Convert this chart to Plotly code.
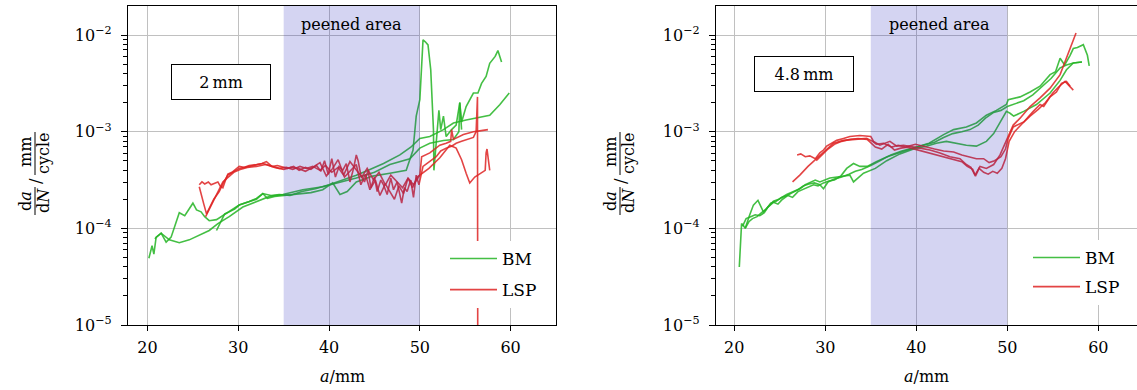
import plotly.graph_objects as go

W, H = 1137, 390
FONT = "DejaVu Serif"
GREEN = "rgba(35,180,35,0.85)"
RED = "rgba(222,35,35,0.85)"

# ---------------- data: left panel (2 mm) ----------------
bm2_a_x = [20.15, 20.5, 20.7, 20.95, 21.5, 22.05, 22.6, 23.2, 23.5, 24.1, 25.0, 25.4, 25.9, 26.3, 26.8, 27.6, 28.3, 29.0, 30.1, 31.2,
           32.0, 32.7, 33.6, 34.5, 35.7, 37.0, 38.5, 40.0, 41.5, 43.0, 44.5, 46.0, 47.8, 49.0, 50.0, 51.1, 52.6, 53.7, 55.1, 56.6,
           57.7, 58.8, 59.85]
bm2_a_y = [4.9e-5, 6.6e-5, 5.4e-5, 8.1e-5, 8.9e-5, 7.2e-5, 8.1e-5, 1.23e-4, 1.45e-4, 1.35e-4, 1.82e-4, 1.55e-4, 1.48e-4, 1.32e-4, 1.2e-4, 1.23e-4, 1.35e-4, 1.48e-4, 1.74e-4, 1.9e-4,
           2.04e-4, 2.29e-4, 2.19e-4, 2.24e-4, 2.19e-4, 2.4e-4, 2.57e-4, 2.82e-4, 3.16e-4, 3.55e-4, 4.07e-4, 4.68e-4, 5.75e-4, 6.9e-4, 8.5e-4, 8.9e-4, 1.05e-3, 1.23e-3, 1.32e-3, 1.41e-3,
           1.48e-3, 1.9e-3, 2.51e-3]

bm2_b_x = [20.8, 21.5, 22.4, 23.5, 24.6, 25.7, 26.8, 27.75, 29.0, 30.5, 32.0, 33.45, 34.9, 37.1, 39.3, 41.0, 43.0, 45.0, 46.7, 48.9,
           50.0, 51.1, 52.6, 53.7, 54.3, 54.4, 54.6]
bm2_b_y = [7.8e-5, 8.9e-5, 7.6e-5, 7.1e-5, 7.6e-5, 8.5e-5, 9.5e-5, 1.12e-4, 1.32e-4, 1.66e-4, 1.9e-4, 2.14e-4, 2.24e-4, 2.51e-4, 2.69e-4, 2.95e-4, 3.31e-4, 3.8e-4, 4.57e-4, 5.25e-4,
           6.76e-4, 7.6e-4, 8.1e-4, 8.3e-4, 1.0e-3, 2.0e-3, 1.05e-3]

bm2_c_x = [27.6, 28.0, 28.5, 29.0, 29.6, 30.1, 30.8, 31.2, 32.0, 32.7, 33.2, 34.0, 35.0, 36.5, 38.0, 39.3, 40.4, 41.2, 42.0, 43.0,
           44.8, 46.7, 48.5, 49.25, 49.6, 50.0, 50.35, 50.6, 50.9, 51.2, 51.5, 51.55, 51.8, 52.1, 52.3, 52.6, 52.9, 53.5, 54.0, 54.4,
           54.6, 55.1, 55.9, 56.4, 56.8, 57.3, 57.7, 58.3, 58.6, 59.0]
bm2_c_y = [9.5e-5, 1.12e-4, 1.41e-4, 1.48e-4, 1.58e-4, 1.74e-4, 1.82e-4, 1.9e-4, 2.0e-4, 2.29e-4, 2.04e-4, 2.14e-4, 2.19e-4, 2.24e-4, 2.34e-4, 2.51e-4, 2.95e-4, 2.24e-4, 2.4e-4, 3.02e-4,
           3.47e-4, 3.72e-4, 3.98e-4, 6.46e-4, 1.45e-3, 2.14e-3, 8.9e-3, 8.5e-3, 7.9e-3, 4.37e-3, 1.05e-3, 3.98e-4, 7.1e-4, 1.66e-3, 1.05e-3, 1.45e-3, 8.9e-4, 1.05e-3, 1.17e-3, 2.0e-3,
           1.26e-3, 1.82e-3, 2.51e-3, 2.51e-3, 3.16e-3, 3.72e-3, 5.1e-3, 6.0e-3, 6.9e-3, 5.25e-3]

lsp2_a_x = [25.7, 25.9, 26.2, 26.5, 26.9, 27.3, 27.9, 28.4, 28.85, 29.4, 30.1, 30.7, 31.2, 32.0, 32.7, 33.1, 33.8, 34.5, 35.3, 36.0,
            36.8, 37.5, 38.2, 39.0, 39.6, 40.3, 41.0, 41.6, 42.3, 43.0, 43.6, 44.2, 44.9, 45.5, 46.2, 46.8, 47.5, 48.1, 48.7, 49.3,
            50.0, 50.2, 51.1, 52.2, 52.9, 53.4, 53.5, 53.7, 54.8, 55.9, 56.6, 57.5]
lsp2_a_y = [2.69e-4, 2.24e-4, 1.78e-4, 1.41e-4, 1.66e-4, 2.0e-4, 2.4e-4, 3.02e-4, 3.55e-4, 3.8e-4, 4.17e-4, 4.27e-4, 4.37e-4, 4.47e-4, 4.68e-4, 4.57e-4, 4.37e-4, 4.17e-4, 4.27e-4, 4.07e-4,
            4.37e-4, 4.17e-4, 4.37e-4, 3.98e-4, 4.47e-4, 3.8e-4, 4.27e-4, 3.55e-4, 4.9e-4, 3.98e-4, 3.39e-4, 4.17e-4, 3.16e-4, 3.8e-4, 2.82e-4, 3.55e-4, 3.02e-4, 2.63e-4, 3.31e-4, 2.82e-4,
            3.55e-4, 5.5e-4, 6.03e-4, 7.24e-4, 7.59e-4, 7.94e-4, 1.05e-3, 8.32e-4, 9.33e-4, 1.0e-3, 1.02e-3, 1.05e-3]

lsp2_b_x = [25.7, 26.0, 26.3, 26.7, 27.0, 27.4, 27.75, 28.0, 28.3, 28.6, 28.85, 29.3, 29.7, 30.1, 30.6, 31.2, 32.0, 32.6, 33.1, 33.7,
            34.3, 34.9, 35.4, 36.1, 36.7, 37.4, 38.0, 38.6, 39.1, 39.5, 39.9, 40.3, 40.7, 41.1, 41.5, 41.9, 42.3, 42.7, 43.0, 43.2,
            43.5, 43.9, 44.3, 44.6, 45.0, 45.3, 45.7, 46.0, 46.4, 46.8, 47.1, 47.5, 47.8, 48.0, 48.3, 48.6, 49.0, 49.3, 49.6, 49.9,
            50.35, 50.8, 51.3, 51.8, 52.3, 52.9, 53.5, 54.0, 54.6, 55.2, 55.9, 56.2, 56.35, 56.4]
lsp2_b_y = [2.82e-4, 3.02e-4, 2.88e-4, 3.02e-4, 2.82e-4, 2.95e-4, 3.02e-4, 2.75e-4, 2.63e-4, 3.16e-4, 3.63e-4, 3.8e-4, 4.07e-4, 4.37e-4, 4.27e-4, 4.47e-4, 4.57e-4, 4.68e-4, 4.9e-4, 4.37e-4,
            4.47e-4, 4.27e-4, 4.17e-4, 4.37e-4, 3.98e-4, 4.27e-4, 4.07e-4, 4.47e-4, 3.89e-4, 5.01e-4, 3.63e-4, 5.25e-4, 3.39e-4, 4.37e-4, 3.98e-4, 4.68e-4, 3.02e-4, 4.17e-4, 5.75e-4, 5.01e-4,
            3.55e-4, 3.02e-4, 3.98e-4, 2.63e-4, 3.39e-4, 2.4e-4, 3.16e-4, 2.82e-4, 2.24e-4, 3.31e-4, 2.51e-4, 3.02e-4, 2.19e-4, 1.82e-4, 2.63e-4, 2.4e-4, 3.16e-4, 2.09e-4, 3.55e-4, 2.82e-4,
            4.37e-4, 4.68e-4, 5.01e-4, 5.5e-4, 6.31e-4, 6.76e-4, 7.08e-4, 7.59e-4, 7.94e-4, 8.32e-4, 8.71e-4, 1.0e-3, 2.29e-3, 1e-7]

lsp2_c_x = [26.4, 26.8, 27.3, 27.8, 28.3, 28.9, 29.5, 30.2, 31.0, 32.0, 33.0, 34.0, 35.0, 35.8, 36.6, 37.4, 38.2, 39.0, 39.7, 40.4,
            41.0, 41.7, 42.4, 43.0, 43.5, 44.0, 44.5, 45.1, 45.6, 46.2, 46.7, 47.2, 47.7, 48.2, 48.7, 49.2, 49.7, 50.35, 51.0, 52.2,
            53.3, 54.0, 54.6, 55.1, 55.5, 56.05, 56.6, 57.2, 57.3, 57.4, 57.7]
lsp2_c_y = [1.32e-4, 1.58e-4, 2.0e-4, 2.51e-4, 3.02e-4, 3.39e-4, 3.8e-4, 4.07e-4, 4.27e-4, 4.37e-4, 4.57e-4, 4.27e-4, 4.07e-4, 4.27e-4, 4.17e-4, 3.89e-4, 4.27e-4, 4.79e-4, 3.47e-4, 4.17e-4,
            5.13e-4, 3.39e-4, 3.98e-4, 4.57e-4, 2.82e-4, 3.63e-4, 2.51e-4, 3.16e-4, 2.19e-4, 2.88e-4, 2.4e-4, 2.0e-4, 2.75e-4, 2.29e-4, 3.31e-4, 2.63e-4, 3.39e-4, 3.72e-4, 4.17e-4, 5.37e-4,
            7.24e-4, 6.76e-4, 5.13e-4, 3.72e-4, 2.95e-4, 3.39e-4, 3.63e-4, 3.98e-4, 6.03e-4, 6.61e-4, 3.98e-4]

# ---------------- data: right panel (4.8 mm) ----------------
bm48_a_x = [20.55, 20.7, 20.8, 21.0, 21.2, 21.7, 22.1, 22.6, 23.2, 23.7, 24.3, 24.9, 25.75, 26.5, 27.2, 27.8, 28.3, 28.9, 29.4, 30.0,
            30.5, 31.3, 32.0, 32.7, 33.1, 34.2, 35.5, 36.75, 38.2, 39.7, 41.1, 42.2, 43.3, 44.4, 45.5, 46.6, 47.7, 48.5, 49.2, 49.9,
            50.3, 50.7, 51.8, 53.2, 54.7, 55.8, 56.5, 57.25, 58.2]
bm48_a_y = [3.98e-5, 7.08e-5, 1.12e-4, 1.07e-4, 1.0e-4, 1.38e-4, 1.74e-4, 1.95e-4, 1.48e-4, 1.66e-4, 1.91e-4, 2.0e-4, 2.24e-4, 2.4e-4, 2.57e-4, 2.82e-4, 2.95e-4, 3.16e-4, 3.02e-4, 3.16e-4,
            3.31e-4, 3.39e-4, 3.47e-4, 3.55e-4, 3.02e-4, 3.72e-4, 4.17e-4, 5.01e-4, 5.89e-4, 6.61e-4, 7.08e-4, 7.59e-4, 7.94e-4, 7.59e-4, 7.24e-4, 7.08e-4, 7.94e-4, 9.55e-4, 1.23e-3, 1.62e-3,
            1.55e-3, 1.45e-3, 1.62e-3, 1.91e-3, 2.51e-3, 3.39e-3, 4.37e-3, 5.13e-3, 5.25e-3]

bm48_b_x = [20.9, 21.3, 21.8, 22.3, 22.8, 23.3, 23.7, 24.3, 24.8, 25.3, 25.9, 26.4, 27.0, 27.5, 28.1, 28.7, 29.2, 29.8, 30.4, 31.0,
            31.7, 32.35, 33.1, 33.8, 34.6, 35.6, 36.8, 38.0, 39.2, 40.3, 41.4, 42.3, 43.0, 44.1, 45.5, 46.6, 47.7, 48.8, 49.9, 50.1,
            51.4, 52.5, 53.6, 54.7, 55.3, 55.8, 56.3, 56.9, 57.25, 57.7, 58.35, 58.8, 59.0]
bm48_b_y = [1.05e-4, 1.26e-4, 1.32e-4, 1.38e-4, 1.35e-4, 1.45e-4, 1.66e-4, 1.86e-4, 1.78e-4, 2.0e-4, 2.19e-4, 2.09e-4, 2.4e-4, 2.51e-4, 2.69e-4, 2.82e-4, 2.75e-4, 2.95e-4, 3.09e-4, 3.16e-4,
            3.47e-4, 4.17e-4, 4.68e-4, 4.37e-4, 4.37e-4, 4.9e-4, 5.5e-4, 6.03e-4, 6.61e-4, 7.08e-4, 7.59e-4, 8.51e-4, 9.33e-4, 1.05e-3, 1.12e-3, 1.23e-3, 1.48e-3, 1.66e-3, 1.91e-3, 2.14e-3,
            2.29e-3, 2.57e-3, 2.95e-3, 3.89e-3, 4.17e-3, 5.75e-3, 4.9e-3, 6.17e-3, 7.24e-3, 7.41e-3, 7.94e-3, 6.17e-3, 4.79e-3]

bm48_c_x = [21.2, 21.6, 22.0, 22.5, 23.0, 23.5, 24.0, 24.6, 25.2, 25.8, 26.4, 27.0, 27.6, 28.2, 28.8, 29.4, 29.8, 30.3, 31.0, 31.8,
            32.6, 33.3, 34.0, 35.0, 36.0, 37.2, 38.4, 39.6, 40.8, 42.0, 43.0, 44.0, 45.0, 45.9, 46.8, 47.6, 48.5, 49.3, 50.0, 50.8,
            51.8, 52.8, 53.95, 54.8, 55.8, 56.5, 57.25, 58.2]
bm48_c_y = [1.0e-4, 1.17e-4, 1.26e-4, 1.32e-4, 1.45e-4, 1.58e-4, 1.82e-4, 1.91e-4, 2.09e-4, 2.19e-4, 2.34e-4, 2.51e-4, 2.75e-4, 2.88e-4, 2.95e-4, 2.82e-4, 2.57e-4, 3.02e-4, 3.24e-4, 3.39e-4,
            3.63e-4, 3.89e-4, 4.07e-4, 4.47e-4, 5.01e-4, 5.75e-4, 6.31e-4, 6.76e-4, 7.24e-4, 7.76e-4, 8.71e-4, 9.55e-4, 1.0e-3, 1.05e-3, 1.17e-3, 1.38e-3, 1.58e-3, 1.66e-3, 1.82e-3, 1.95e-3,
            2.09e-3, 2.4e-3, 3.02e-3, 3.55e-3, 4.57e-3, 4.9e-3, 5.13e-3, 5.25e-3]

lsp48_a_x = [26.9, 27.3, 27.8, 28.3, 28.9, 29.4, 29.8, 30.15, 30.7, 31.25, 32.0, 32.7, 33.8, 35.0, 35.3, 36.0, 37.1, 37.85, 38.6, 39.3,
             40.4, 41.5, 42.6, 43.7, 44.8, 45.5, 46.0, 46.45, 47.0, 47.7, 48.5, 49.2, 49.75, 50.1, 50.65, 51.4, 52.5, 53.6, 54.7, 55.8,
             56.35, 56.9, 57.55]
lsp48_a_y = [5.75e-4, 5.89e-4, 5.5e-4, 5.62e-4, 5.25e-4, 6.03e-4, 6.46e-4, 7.08e-4, 7.59e-4, 8.13e-4, 8.51e-4, 8.91e-4, 9.12e-4, 8.91e-4, 7.94e-4, 7.24e-4, 7.94e-4, 7.08e-4, 7.24e-4, 7.08e-4,
             6.76e-4, 6.46e-4, 6.03e-4, 5.5e-4, 5.25e-4, 4.57e-4, 4.27e-4, 3.55e-4, 4.37e-4, 4.17e-4, 4.57e-4, 5.75e-4, 7.59e-4, 8.91e-4, 1.17e-3, 1.38e-3, 1.82e-3, 2.24e-3, 2.82e-3, 3.89e-3,
             5.25e-3, 7.24e-3, 1.05e-2]

lsp48_b_x = [26.4, 27.2, 28.1, 29.0, 29.8, 30.9, 32.0, 33.2, 34.55, 35.2, 35.6, 36.4, 37.3, 38.0, 38.8, 39.9, 41.0, 42.0, 43.0, 44.1,
             45.0, 45.8, 46.6, 47.4, 48.0, 48.6, 49.3, 49.8, 50.1, 50.65, 51.8, 52.85, 53.6, 54.0, 54.7, 55.4, 55.95, 56.5, 56.9]
lsp48_b_y = [3.02e-4, 3.55e-4, 4.37e-4, 5.25e-4, 6.17e-4, 7.59e-4, 8.13e-4, 8.32e-4, 8.51e-4, 7.94e-4, 7.41e-4, 7.59e-4, 6.92e-4, 7.24e-4, 6.92e-4, 7.41e-4, 6.92e-4, 6.61e-4, 6.31e-4, 6.17e-4,
             5.75e-4, 5.5e-4, 5.25e-4, 5.25e-4, 4.79e-4, 5.01e-4, 5.5e-4, 6.61e-4, 8.51e-4, 1.12e-3, 1.26e-3, 1.62e-3, 1.91e-3, 1.82e-3, 2.29e-3, 2.57e-3, 3.16e-3, 3.31e-3, 2.95e-3]

lsp48_c_x = [29.0, 29.6, 30.3, 31.0, 31.8, 32.7, 33.6, 34.6, 35.1, 35.5, 36.2, 36.9, 37.6, 38.3, 39.0, 39.8, 40.7, 41.6, 42.5, 43.4,
             44.2, 45.0, 45.6, 46.2, 46.5, 46.9, 47.4, 47.9, 48.4, 48.9, 49.4, 49.8, 50.2, 50.8, 51.6, 52.5, 53.4, 54.2, 55.0, 55.6,
             56.35, 56.9, 57.25]
lsp48_c_y = [5.01e-4, 5.75e-4, 6.61e-4, 7.41e-4, 7.94e-4, 8.32e-4, 8.51e-4, 8.32e-4, 7.59e-4, 6.92e-4, 6.61e-4, 7.41e-4, 6.46e-4, 6.76e-4, 6.92e-4, 6.61e-4, 6.31e-4, 5.89e-4, 5.62e-4, 5.37e-4,
             5.13e-4, 4.9e-4, 4.37e-4, 4.07e-4, 3.47e-4, 4.17e-4, 3.8e-4, 3.63e-4, 3.89e-4, 3.72e-4, 4.17e-4, 5.25e-4, 7.94e-4, 1.0e-3, 1.2e-3, 1.45e-3, 1.7e-3, 2.0e-3, 2.51e-3, 2.88e-3,
             3.31e-3, 2.95e-3, 2.69e-3]

ytick_vals = [1e-5, 1e-4, 1e-3, 1e-2]
ytick_text = ["10<sup>\u22125</sup>", "10<sup>\u22124</sup>", "10<sup>\u22123</sup>", "10<sup>\u22122</sup>"]
yminor_vals = [2e-5, 3e-5, 4e-5, 5e-5, 6e-5, 7e-5, 8e-5, 9e-5,
               2e-4, 3e-4, 4e-4, 5e-4, 6e-4, 7e-4, 8e-4, 9e-4,
               2e-3, 3e-3, 4e-3, 5e-3, 6e-3, 7e-3, 8e-3, 9e-3, 2e-2]
xtick_vals = [20, 30, 40, 50, 60]
peened = [35, 50]
panel_labels = ["2\u2009mm", "4.8\u2009mm"]

fig = go.Figure()


def add(xs, ys, color, name, show, xa, ya, leg):
    fig.add_trace(go.Scatter(x=xs, y=ys, mode="lines", name=name, showlegend=show,
                             legendgroup=name, legend=leg, xaxis=xa, yaxis=ya,
                             line=dict(color=color, width=1.6), hoverinfo="skip"))


add(bm2_a_x, bm2_a_y, GREEN, "BM", True, "x", "y", "legend")
add(bm2_b_x, bm2_b_y, GREEN, "BM", False, "x", "y", "legend")
add(bm2_c_x, bm2_c_y, GREEN, "BM", False, "x", "y", "legend")
add(lsp2_a_x, lsp2_a_y, RED, "LSP", True, "x", "y", "legend")
add(lsp2_b_x, lsp2_b_y, RED, "LSP", False, "x", "y", "legend")
add(lsp2_c_x, lsp2_c_y, RED, "LSP", False, "x", "y", "legend")

add(bm48_a_x, bm48_a_y, GREEN, "BM", True, "x2", "y2", "legend2")
add(bm48_b_x, bm48_b_y, GREEN, "BM", False, "x2", "y2", "legend2")
add(bm48_c_x, bm48_c_y, GREEN, "BM", False, "x2", "y2", "legend2")
add(lsp48_a_x, lsp48_a_y, RED, "LSP", True, "x2", "y2", "legend2")
add(lsp48_b_x, lsp48_b_y, RED, "LSP", False, "x2", "y2", "legend2")
add(lsp48_c_x, lsp48_c_y, RED, "LSP", False, "x2", "y2", "legend2")

tickfont = dict(family=FONT, size=16, color="black")
ydom = [65 / H, 384 / H]


def xaxis(domain, rng):
    return dict(domain=domain, range=rng, tickvals=xtick_vals, ticks="outside", ticklen=5,
                tickcolor="black", showline=True, linecolor="black", linewidth=1.3, mirror=True,
                showgrid=True, gridcolor="rgb(192,192,192)", gridwidth=1, zeroline=False,
                tickfont=tickfont, ticklabelstandoff=3, automargin=False)


def yaxis(anchor):
    return dict(domain=ydom, type="log", range=[-5, -1.7], anchor=anchor,
                tickvals=ytick_vals, ticktext=ytick_text, ticks="outside", ticklen=6,
                tickcolor="black", showline=True, linecolor="black", linewidth=1.3, mirror=True,
                showgrid=True, gridcolor="rgb(192,192,192)", gridwidth=1, zeroline=False,
                tickfont=tickfont, ticklabelstandoff=6, automargin=False,
                minor=dict(tickvals=yminor_vals, ticks="outside", ticklen=3.5,
                           tickcolor="black", showgrid=False))


layout = dict(
    width=W, height=H, margin=dict(l=0, r=0, t=0, b=0, autoexpand=False),
    paper_bgcolor="white", plot_bgcolor="white",
    xaxis=dict(xaxis([128 / W, 556 / W], [17.85, 65.0]), anchor="y"),
    yaxis=yaxis("x"),
    xaxis2=dict(xaxis([716 / W, 1.0], [17.99, 64.25]), anchor="y2"),
    yaxis2=yaxis("x2"),
    legend=dict(x=445 / W, y=1 - 241 / H, xanchor="left", yanchor="top", bgcolor="white",
                borderwidth=0, font=dict(family=FONT, size=17, color="black"),
                tracegroupgap=6, traceorder="grouped", itemwidth=47),
    legend2=dict(x=1028 / W, y=1 - 240 / H, xanchor="left", yanchor="top", bgcolor="white",
                 borderwidth=0, font=dict(family=FONT, size=17, color="black"),
                 tracegroupgap=4, traceorder="grouped", itemwidth=47),
    showlegend=True,
)
fig.update_layout(**layout)

shapes = []
annotations = []
C = dict(xanchor="center", yanchor="middle", showarrow=False)
for xr in ["x", "x2"]:
    shapes.append(dict(type="rect", xref=xr, yref=xr.replace("x", "y") + " domain",
                       x0=peened[0], x1=peened[1], y0=0, y1=1,
                       fillcolor="rgba(40,40,190,0.2)", line=dict(width=0), layer="above"))
    annotations.append(dict(text="peened area", xref=xr, yref="paper", x=42.5, y=1 - 24 / H,
                            font=dict(family=FONT, size=16, color="black"), **C))

# panel label boxes
box_centers = [(221, 81.5), (803.5, 73.5)]
for (cx, cy), lab in zip(box_centers, panel_labels):
    annotations.append(dict(text=lab, xref="paper", yref="paper", x=cx / W, y=1 - cy / H,
                            bordercolor="black", borderwidth=1, bgcolor="white",
                            width=96, height=32, font=dict(family=FONT, size=16, color="black"), **C))

# axis titles
for cx in [342, 926.5]:
    annotations.append(dict(text="<i>a</i>/mm", xref="paper", yref="paper", x=cx / W, y=1 - 376 / H,
                            font=dict(family=FONT, size=16, color="black"), **C))

for off in [0, 585]:
    lab_font = dict(family=FONT, size=16, color="black")
    for txt, px, py in [("d<i>a</i>", 26, 201), ("d<i>N</i>", 44, 201), ("/", 35, 181),
                        ("mm", 26, 152), ("cycle", 44, 153)]:
        annotations.append(dict(text=txt, xref="paper", yref="paper", x=(px + off) / W, y=1 - py / H,
                                textangle=-90, font=lab_font, **C))
    shapes.append(dict(type="line", xref="paper", yref="paper", x0=(35 + off) / W, x1=(35 + off) / W,
                       y0=1 - 187 / H, y1=1 - 215 / H, line=dict(color="black", width=1)))
    shapes.append(dict(type="line", xref="paper", yref="paper", x0=(35 + off) / W, x1=(35 + off) / W,
                       y0=1 - 132 / H, y1=1 - 175 / H, line=dict(color="black", width=1)))

fig.update_layout(shapes=shapes, annotations=annotations)
fig.write_html("out.html", config={"displayModeBar": False},
               post_script="document.body.style.margin='0px';document.body.style.overflow='hidden';")
